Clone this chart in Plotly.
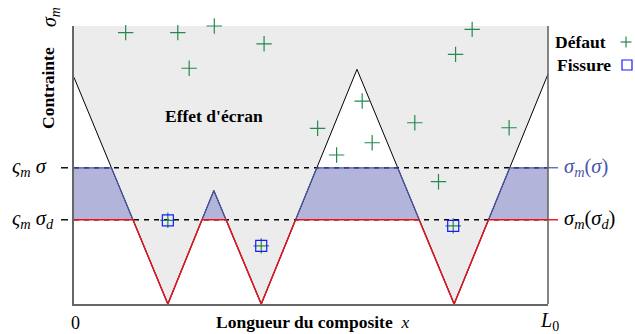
import plotly.graph_objects as go

# ── Data (x: position along composite, 0..100 = 0..L0 ; y: stress, 1 = sigma_m) ──

SIGMA = 0.49      # level  sigma_m * sigma
SIGMA_D = 0.303   # level  sigma_m * sigma_d

# screening profile (black), V-shapes around each crack
profile_x = [0, 19.8, 29.5, 39.5, 59.7, 80.2, 100]
profile_y = [0.815, 0, 0.408, 0, 0.844, 0, 0.827]

# sigma_m(sigma) : profile cut at SIGMA (blue)
sig_x = [0, 7.9, 19.8, 29.5, 39.5, 51.2, 68.3, 80.2, 91.9, 100]
sig_y = [0.49, 0.49, 0, 0.408, 0, 0.49, 0.49, 0, 0.49, 0.49]

# sigma_m(sigma_d) : profile cut at SIGMA_D (red)
sigd_x = [0, 12.44, 19.8, 27.0, 32.1, 39.5, 46.75, 72.8, 80.2, 87.45, 100]
sigd_y = [0.303, 0.303, 0, 0.303, 0.303, 0, 0.303, 0.303, 0, 0.303, 0.303]

# defects (green +)
defect_x = [10.9, 21.9, 29.6, 24.3, 40.1, 51.4, 55.4, 60.8, 62.9, 71.9, 76.9, 80.5, 84.0, 91.8]
defect_y = [0.976, 0.976, 1.0, 0.848, 0.936, 0.632, 0.536, 0.730, 0.580, 0.652, 0.440, 0.898, 0.988, 0.634]

# cracks (blue square with a + inside)
crack_x = [19.8, 39.5, 80.0]
crack_y = [0.301, 0.209, 0.281]

GREEN = "#23894f"
BLUE_SQ = "#1a1aff"
BLUE_LINE = "#4a55a8"
BLUE_FILL = "#b3b4d9"
GRAY_FILL = "#ececec"
RED = "#ee1111"
AXIS = "#666666"
SERIF = "Liberation Serif, Times New Roman, serif"

# margins put the axes box at px x 74..548, y 26..304 in a 635x334 page
W, H = 635, 334
ML, MR, MT, MB = 74, 87, 26, 30
PW, PH = W - ML - MR, H - MT - MB


def px(x):
    return (x - ML) / PW


def py(y):
    return (H - MB - y) / PH


fig = go.Figure()

# gray zone above the screening profile
fig.add_trace(go.Scatter(
    x=profile_x + [100, 0], y=profile_y + [1, 1],
    fill="toself", fillcolor=GRAY_FILL, mode="none", hoverinfo="skip",
))

# blue zone between the two cut profiles
fig.add_trace(go.Scatter(
    x=sig_x + sigd_x[::-1], y=sig_y + sigd_y[::-1],
    fill="toself", fillcolor=BLUE_FILL, mode="none", hoverinfo="skip",
))

# profile line
fig.add_trace(go.Scatter(
    x=profile_x, y=profile_y, mode="lines",
    line=dict(color="black", width=1),
))

# dashed levels
for lvl in (SIGMA, SIGMA_D):
    fig.add_trace(go.Scatter(
        x=[0, 100], y=[lvl, lvl], mode="lines",
        line=dict(color="black", width=1.4, dash="5px,5px"),
    ))

fig.add_trace(go.Scatter(
    x=sig_x, y=sig_y, mode="lines",
    line=dict(color=BLUE_LINE, width=1.2),
))
fig.add_trace(go.Scatter(
    x=sigd_x, y=sigd_y, mode="lines",
    line=dict(color=RED, width=1.4),
))

# defects and cracks
fig.add_trace(go.Scatter(
    x=defect_x + crack_x, y=defect_y + crack_y, mode="markers",
    marker=dict(symbol="cross-thin", size=11, line=dict(color=GREEN, width=1.2)),
    cliponaxis=False,
))
fig.add_trace(go.Scatter(
    x=crack_x, y=crack_y, mode="markers",
    marker=dict(symbol="square-open", size=11, color=BLUE_SQ, line=dict(width=1.2)),
    cliponaxis=False,
))


def pline(x0, y0, x1, y1, color, width):
    return dict(type="line", xref="paper", yref="paper",
                x0=px(x0), y0=py(y0), x1=px(x1), y1=py(y1),
                line=dict(color=color, width=width))


shapes = [
    # right border of the box
    dict(type="line", xref="paper", yref="paper", x0=1, x1=1, y0=0, y1=1,
         line=dict(color=AXIS, width=1.6)),
    # dashed stubs left of the axis
    dict(type="line", xref="paper", yref="paper", x0=px(61), x1=px(68), y0=SIGMA, y1=SIGMA,
         line=dict(color="black", width=1.4)),
    dict(type="line", xref="paper", yref="paper", x0=px(61), x1=px(68), y0=SIGMA_D, y1=SIGMA_D,
         line=dict(color="black", width=1.4)),
    # coloured lines continuing past the right border
    dict(type="line", xref="paper", yref="paper", x0=1, x1=px(558), y0=SIGMA, y1=SIGMA,
         line=dict(color=BLUE_LINE, width=1.2)),
    dict(type="line", xref="paper", yref="paper", x0=1, x1=px(558), y0=SIGMA_D, y1=SIGMA_D,
         line=dict(color=RED, width=1.4)),
    # legend keys, drawn right of the legend text
    pline(620.5, 42, 631.5, 42, GREEN, 1.2),
    pline(626, 36.5, 626, 47.5, GREEN, 1.2),
    dict(type="rect", xref="paper", yref="paper",
         x0=px(622), x1=px(632), y0=py(60), y1=py(70),
         line=dict(color=BLUE_SQ, width=1.2)),
]


def note(text, x, y, size=17, color="black", **kw):
    opts = dict(xanchor="center", yanchor="middle")
    opts.update(kw)
    return dict(text=text, xref="paper", yref="paper", x=x, y=y, showarrow=False,
                font=dict(family=SERIF, size=size, color=color), **opts)


annotations = [
    note("<i>σ<sub>m</sub></i>", px(51), py(17), size=20, textangle=-90),
    note("<b>Contrainte</b>", px(48), py(88), size=17.5, textangle=-90),
    note("<b>Effet d'écran</b>", px(214), py(116), size=17.5),
    note("<b>Longueur du composite</b>  <i>x</i>", px(312), py(322), size=17.5),
    note("<b>Défaut</b>", px(608), py(42), size=17.5, xanchor="right"),
    note("<b>Fissure</b>", px(613), py(65), size=17.5, xanchor="right"),
    note("<i>ς<sub>m</sub> σ</i>", px(10), py(167), size=20.5, xanchor="left"),
    note("<i>ς<sub>m</sub> σ<sub>d</sub></i>", px(10), py(219), size=20.5, xanchor="left"),
    note("<i>σ<sub>m</sub></i>(<i>σ</i>)", px(562), py(167), size=20.5, xanchor="left", color=BLUE_LINE),
    note("<i>σ<sub>m</sub></i>(<i>σ<sub>d</sub></i>)", px(562), py(219), size=20.5, xanchor="left"),
    note("0", px(75), py(323), size=18),
    note("<i>L</i><sub>0</sub>", px(549), py(321), size=20),
]

fig.update_layout(
    width=W, height=H,
    margin=dict(l=ML, r=MR, t=MT, b=MB, pad=0),
    paper_bgcolor="white", plot_bgcolor="white",
    showlegend=False,
    shapes=shapes,
    annotations=annotations,
    xaxis=dict(range=[0, 100], showgrid=False, zeroline=False, showticklabels=False,
               ticks="", showline=True, linecolor=AXIS, linewidth=1.6, fixedrange=True),
    yaxis=dict(range=[0, 1], showgrid=False, zeroline=False, showticklabels=False,
               ticks="", showline=True, linecolor=AXIS, linewidth=1.6, fixedrange=True),
)

fig.write_html(
    "out.html",
    config=dict(displayModeBar=False),
    post_script="document.body.style.margin='0';document.body.style.overflow='hidden';",
)
